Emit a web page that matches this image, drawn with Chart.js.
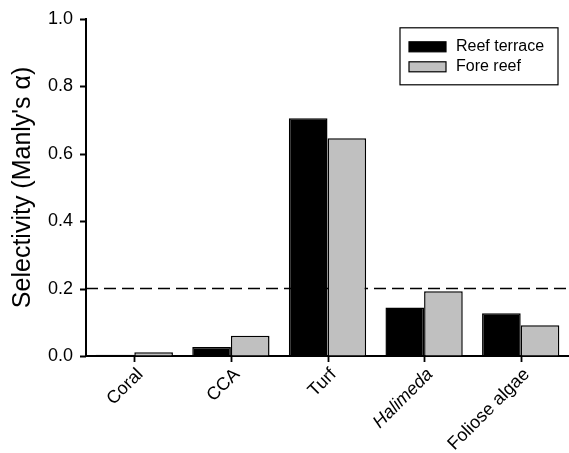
<!DOCTYPE html>
<html>
<head>
<meta charset="utf-8">
<script src="https://cdn.jsdelivr.net/npm/chart.js@4.4.0/dist/chart.umd.min.js"></script>
<style>
  body { margin: 0; background: #fff; }
  #wrap { width: 569px; height: 453px; }
</style>
</head>
<body>
<div id="wrap"><canvas id="chart"></canvas></div>
<script>
// data
var categories = ['Coral', 'CCA', 'Turf', 'Halimeda', 'Foliose algae'];
var reefTerrace = [0.004, 0.027, 0.705, 0.144, 0.127];
var foreReef = [0.011, 0.060, 0.646, 0.192, 0.091];
var seriesNames = ['Reef terrace', 'Fore reef'];
var yTicks = [0, 0.2, 0.4, 0.6, 0.8, 1.0];
var threshold = 0.2; // 1/number of food types

var FONT = 'Arial, "Liberation Sans", sans-serif';

// dashed reference line, drawn under the bars
var thresholdLine = {
  id: 'thresholdLine',
  beforeDatasetsDraw: function (chart) {
    var ctx = chart.ctx;
    var area = chart.chartArea;
    var y = chart.scales.y.getPixelForValue(threshold);
    ctx.save();
    ctx.strokeStyle = '#000';
    ctx.lineWidth = 1.6;
    ctx.setLineDash([12, 6]);
    ctx.beginPath();
    ctx.moveTo(area.left, y);
    ctx.lineTo(area.right, y);
    ctx.stroke();
    ctx.restore();
  }
};

// outward tick marks on both axes
var tickMarks = {
  id: 'tickMarks',
  afterDraw: function (chart) {
    var ctx = chart.ctx;
    var xs = chart.scales.x, ys = chart.scales.y;
    ctx.save();
    ctx.strokeStyle = '#000';
    ctx.lineWidth = 1.8;
    ctx.beginPath();
    xs.ticks.forEach(function (t, i) {
      var px = Math.round(xs.getPixelForTick(i)) + 0.5;
      ctx.moveTo(px, xs.top);
      ctx.lineTo(px, xs.top + 6);
    });
    ys.ticks.forEach(function (t, i) {
      var py = Math.round(ys.getPixelForTick(i)) + 0.5;
      ctx.moveTo(ys.right, py);
      ctx.lineTo(ys.right - 6, py);
    });
    ctx.stroke();
    ctx.restore();
  }
};

// boxed legend in the upper right corner
var boxLegend = {
  id: 'boxLegend',
  afterDraw: function (chart) {
    var ctx = chart.ctx;
    var area = chart.chartArea;
    var w = 158, h = 57;
    var x0 = area.right - 11 - w;
    var y0 = area.top + 9;
    ctx.save();
    ctx.strokeStyle = '#000';
    ctx.lineWidth = 1.2;
    ctx.strokeRect(x0, y0, w, h);
    ctx.font = '16px ' + FONT;
    ctx.textBaseline = 'middle';
    chart.data.datasets.forEach(function (ds, i) {
      var cy = y0 + 19 + i * 20;
      ctx.fillStyle = ds.backgroundColor;
      ctx.fillRect(x0 + 9, cy - 5, 37, 10);
      ctx.strokeRect(x0 + 9, cy - 5, 37, 10);
      ctx.fillStyle = '#000';
      ctx.fillText(ds.label, x0 + 56, cy);
    });
    ctx.restore();
  }
};

var hidden = 'rgba(0,0,0,0)';

var ctx = document.getElementById('chart').getContext('2d');
var myChart = new Chart(ctx, {
  type: 'bar',
  data: {
    labels: categories,
    datasets: [{
      label: seriesNames[0],
      data: reefTerrace,
      backgroundColor: '#000000',
      borderColor: '#000000',
      borderWidth: 1.5
    }, {
      label: seriesNames[1],
      data: foreReef,
      backgroundColor: '#c0c0c0',
      borderColor: '#000000',
      borderWidth: 1.5
    }]
  },
  options: {
    responsive: true,
    maintainAspectRatio: false,
    animation: false,
    layout: { padding: { top: 17, right: 0, left: 0, bottom: 0 } },
    datasets: {
      bar: { categoryPercentage: 0.8, barPercentage: 1.0 }
    },
    plugins: {
      legend: { display: false },
      tooltip: { enabled: false }
    },
    scales: {
      x: {
        afterFit: function (scale) { scale.height = 97; },
        border: { display: true, color: '#000', width: 2 },
        grid: { display: true, drawOnChartArea: false, tickLength: 6, color: hidden },
        ticks: {
          color: '#000',
          maxRotation: 45,
          minRotation: 45,
          padding: 2,
          labelOffset: 6,
          font: function (c) {
            return { family: FONT, size: 18, style: categories[c.index] === 'Halimeda' ? 'italic' : 'normal' };
          }
        }
      },
      y: {
        min: 0,
        max: 1,
        afterFit: function (scale) { scale.width = 86; },
        afterBuildTicks: function (scale) {
          scale.ticks = yTicks.map(function (v) { return { value: v }; });
        },
        border: { display: true, color: '#000', width: 2 },
        grid: { display: true, drawOnChartArea: false, tickLength: 5, color: hidden },
        ticks: {
          color: '#000',
          padding: 8,
          font: { family: FONT, size: 18 },
          callback: function (v) { return Number(v).toFixed(1); }
        },
        title: {
          display: true,
          text: "Selectivity (Manly's \u03b1)",
          color: '#000',
          padding: { top: 8, bottom: 4 },
          font: { family: FONT, size: 25 }
        }
      }
    }
  },
  plugins: [thresholdLine, tickMarks, boxLegend]
});
</script>
</body>
</html>
